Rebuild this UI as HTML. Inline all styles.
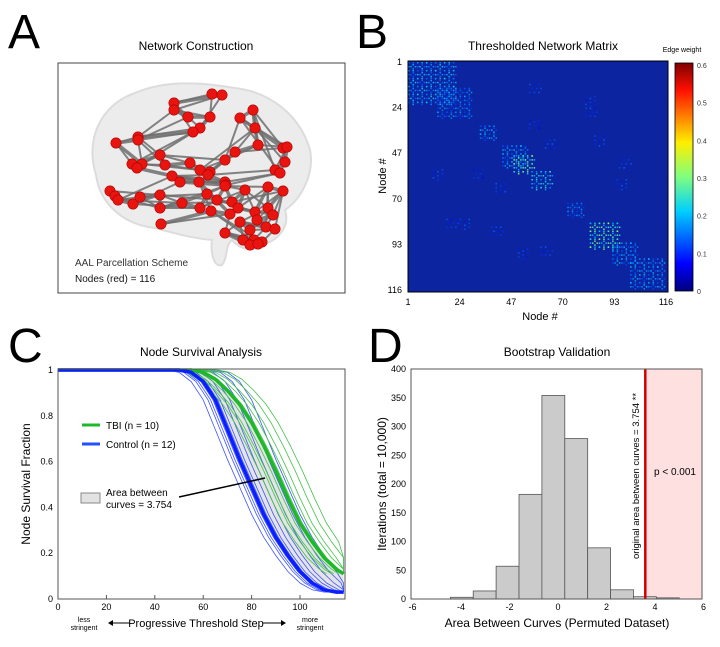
<!DOCTYPE html>
<html><head><meta charset="utf-8"><style>
body{margin:0;background:#fff}
svg{display:block;font-family:"Liberation Sans",Arial,sans-serif}
</style></head><body>
<svg id="fig" width="720" height="647" viewBox="0 0 720 647" xmlns="http://www.w3.org/2000/svg">
<text x="8" y="48" font-size="48">A</text>
<text x="356" y="48" font-size="48">B</text>
<text x="8" y="362" font-size="48">C</text>
<text x="368" y="362" font-size="48">D</text>

<g>
<text x="196" y="50" font-size="12" text-anchor="middle">Network Construction</text>
<rect x="58" y="63" width="287" height="230" fill="#fff" stroke="#444" stroke-width="1"/>
<path d="M96,175 C85,140 100,105 135,93 C165,80 200,82 235,88 C270,92 300,115 310,150 C315,175 300,200 285,210 C290,225 280,240 262,245 C255,252 240,250 232,240 C225,245 228,258 222,265 C215,268 210,255 212,240 C190,238 170,232 155,228 C125,225 100,205 96,175 Z" fill="#ececec" stroke="#dcdcdc" stroke-width="2"/>
<g id="brainEdges"></g><g id="brainNodes"></g>
<text x="75" y="266" font-size="10" fill="#333">AAL Parcellation Scheme</text>
<text x="75" y="282" font-size="10" fill="#111">Nodes (red) = 116</text>
</g>

<g>
<text x="543" y="50" font-size="12" text-anchor="middle">Thresholded Network Matrix</text>
<text x="682" y="52" font-size="7" text-anchor="middle">Edge weight</text>
<defs><linearGradient id="jet" x1="0" y1="1" x2="0" y2="0">
<stop offset="0" stop-color="#00007f"/><stop offset="0.12" stop-color="#0000ff"/><stop offset="0.35" stop-color="#00cfff"/><stop offset="0.5" stop-color="#7fff7f"/><stop offset="0.65" stop-color="#ffef00"/><stop offset="0.88" stop-color="#ff1000"/><stop offset="1" stop-color="#7f0000"/></linearGradient></defs>
<rect x="408" y="61" width="260" height="231" fill="#0c24a0"/>
<g id="matrixCells"></g>
<rect x="408" y="61" width="260" height="231" fill="none" stroke="#000" stroke-width="1"/>
<rect x="675" y="63" width="18" height="228" fill="url(#jet)" stroke="#000" stroke-width="0.8"/>
<g id="cbTicks" font-size="7" fill="#333"></g>
<g id="matTicks" font-size="9"></g>
<text x="540" y="320" font-size="11" text-anchor="middle">Node #</text>
<text transform="translate(386,176) rotate(-90)" font-size="11" text-anchor="middle">Node #</text>
</g>

<g>
<text x="201" y="356" font-size="12" text-anchor="middle">Node Survival Analysis</text>
<rect x="58" y="369" width="287" height="230" fill="#fff"/>
<path id="areaFill" fill="#e4e4e4" stroke="none"/>
<g id="cCurves"></g>
<rect x="58" y="369" width="287" height="230" fill="none" stroke="#555" stroke-width="1"/>
<g id="cTicks" font-size="9"></g>
<text transform="translate(30,484) rotate(-90)" font-size="12" text-anchor="middle">Node Survival Fraction</text>
<text x="196" y="627" font-size="11" text-anchor="middle">Progressive Threshold Step</text>
<text x="84" y="622" font-size="7" text-anchor="middle">less</text>
<text x="84" y="630" font-size="7" text-anchor="middle">stringent</text>
<text x="310" y="622" font-size="7" text-anchor="middle">more</text>
<text x="310" y="630" font-size="7" text-anchor="middle">stringent</text>
<line x1="110" y1="623" x2="130" y2="623" stroke="#000"/><path d="M108,623 l5,-3 v6z"/>
<line x1="263" y1="623" x2="282" y2="623" stroke="#000"/><path d="M286,623 l-5,-3 v6z"/>
<line x1="82" y1="425" x2="100" y2="425" stroke="#1fb82b" stroke-width="3"/>
<text x="106" y="429" font-size="10">TBI (n = 10)</text>
<line x1="82" y1="444" x2="100" y2="444" stroke="#2050ff" stroke-width="3"/>
<text x="106" y="448" font-size="10">Control (n = 12)</text>
<rect x="81" y="493" width="19" height="10" fill="#e2e2e2" stroke="#888"/>
<text x="106" y="496" font-size="10">Area between</text>
<text x="106" y="508" font-size="10">curves = 3.754</text>
<line x1="179" y1="497" x2="265" y2="478" stroke="#000" stroke-width="1.5"/>
</g>

<g>
<text x="557" y="356" font-size="12" text-anchor="middle">Bootstrap Validation</text>
<rect id="pink" y="369" height="230" fill="#ffe0e0"/>
<g id="bars"></g>
<line id="redLine" y1="369" y2="599" stroke="#d00000" stroke-width="2.5"/>
<rect x="411" y="369" width="291" height="230" fill="none" stroke="#555" stroke-width="1"/>
<g id="dTicks" font-size="9"></g>
<text x="654" y="475" font-size="10">p &lt; 0.001</text>
<text transform="translate(639,476) rotate(-90)" font-size="9.5" text-anchor="middle">original area between curves = 3.754 **</text>
<text transform="translate(386,484) rotate(-90)" font-size="12" text-anchor="middle">Iterations (total = 10,000)</text>
<text x="557" y="627" font-size="12" text-anchor="middle">Area Between Curves (Permuted Dataset)</text>
</g>
</svg>
<script>
const steps = [0, 50, 55, 60, 65, 70, 75, 80, 85, 90, 95, 100, 105, 110, 115, 118];
const tbiMean = [1, 1, 1, 0.99, 0.96, 0.91, 0.85, 0.77, 0.67, 0.56, 0.44, 0.33, 0.25, 0.18, 0.13, 0.11];
const ctrlMean = [1, 1, 0.99, 0.95, 0.87, 0.74, 0.61, 0.49, 0.37, 0.27, 0.19, 0.12, 0.07, 0.04, 0.03, 0.03];
const tbiShifts = [-7, -4, -2, 0, 1, 3, 5, 8, 11, -5];
const ctrlShifts = [-5, -3, -2, -1, 0, 1, 2, 4, 6, 9, 12, 15];
const cXTicks = [0, 20, 40, 60, 80, 100];
const cYTicks = [0, 0.2, 0.4, 0.6, 0.8, 1];
const binStart = -4.44, binWidth = 0.944;
const counts = [3, 14, 57, 182, 354, 279, 89, 16, 4, 2];
const observed = 3.6;
const dXTicks = [-6, -4, -2, 0, 2, 4, 6];
const dYTicks = [0, 50, 100, 150, 200, 250, 300, 350, 400];
const nodeTicks = [1, 24, 47, 70, 93, 116];
const cbTickVals = [0, 0.1, 0.2, 0.3, 0.4, 0.5, 0.6];
const clusters = [[1,1,22,0.22],[14,14,16,0.18],[33,33,8,0.2],[43,43,12,0.2],[48,48,10,0.32],[56,56,10,0.25],[72,72,8,0.18],[82,82,14,0.32],[92,92,12,0.2],[100,100,16,0.2],[12,55,6,0.14],[24,80,6,0.14],[50,95,6,0.14],[80,18,6,0.13],[84,38,6,0.14],[94,60,6,0.14],[55,30,5,0.12],[40,62,6,0.14]];
const brainNodes = [[212,94],[222,95],[174,103],[174,110],[188,117],[210,117],[200,128],[193,132],[138,137],[138,140],[116,143],[142,164],[132,164],[160,155],[165,165],[190,163],[200,170],[210,172],[225,160],[235,152],[258,145],[255,128],[253,110],[240,118],[283,148],[287,147],[285,162],[275,170],[280,173],[208,175],[225,182],[172,176],[180,182],[226,185],[110,191],[115,196],[118,200],[133,204],[140,197],[160,195],[160,208],[182,203],[200,208],[207,194],[217,200],[225,186],[232,202],[245,190],[238,208],[255,212],[268,187],[283,191],[268,208],[273,215],[257,220],[266,227],[275,229],[240,222],[250,230],[243,240],[254,240],[262,242],[225,233],[250,245],[258,244],[161,224],[211,211],[230,214],[199,182],[137,168]];

const NS = "http://www.w3.org/2000/svg";
function mk(tag, attrs, parent){const e=document.createElementNS(NS,tag);for(const k in attrs)e.setAttribute(k,attrs[k]);parent.appendChild(e);return e;}

const eg=document.getElementById('brainEdges'), ng=document.getElementById('brainNodes');
brainNodes.forEach((p,i)=>{
  [1,2,5].forEach(o=>{const q=brainNodes[(i+o)%brainNodes.length];
    const dx=q[0]-p[0],dy=q[1]-p[1];
    if(Math.hypot(dx,dy)<70){const l=mk('line',{x1:p[0],y1:p[1],x2:q[0],y2:q[1],stroke:'#6e6e6e','stroke-width':o===1?3.5:2,'stroke-opacity':0.85},eg);
    
    }});
});
brainNodes.forEach(p=>{const c=mk('circle',{cx:p[0],cy:p[1],r:5.2,fill:'#e8140f',stroke:'#b00000','stroke-width':0.6},ng);
  
  });

const mx=v=>408+(v-1)/115*258, my=v=>62+(v-1)/115*228;
function jet(w){const t=Math.min(1,w/0.6);const stops=[[0,[0,0,127]],[0.12,[0,0,255]],[0.35,[0,207,255]],[0.5,[127,255,127]],[0.65,[255,239,0]],[0.88,[255,16,0]],[1,[127,0,0]]];
  for(let i=1;i<stops.length;i++){if(t<=stops[i][0]){const a=stops[i-1],b=stops[i],f=(t-a[0])/(b[0]-a[0]);return 'rgb('+a[1].map((c,j)=>Math.round(c+(b[1][j]-c)*f)).join(',')+')';}}return 'rgb(127,0,0)';}
const mc=document.getElementById('matrixCells');
clusters.forEach(cl=>{const [r0,c0,s,w]=cl;
  for(let r=r0;r<r0+s;r+=2)for(let c=c0+((r-r0)/2%2);c<c0+s;c+=2){
    [[r,c],[c,r]].forEach(([a,b])=>{const e=mk('rect',{x:mx(b),y:my(a),width:1.5,height:1.5,fill:jet(w*(0.6+0.4*(((a*7+b*3)%5)/4))),'fill-opacity':0.85},mc);
    
    });
  }});
const cb=document.getElementById('cbTicks');
cbTickVals.forEach(v=>{const t=mk('text',{x:697,y:291-v/0.6*226+3},cb);t.textContent=v;
  
  });
const mt=document.getElementById('matTicks');
nodeTicks.forEach(v=>{let t=mk('text',{x:mx(v),y:305,'text-anchor':'middle'},mt);t.textContent=v;
  
  
  t=mk('text',{x:402,y:my(v)+3,'text-anchor':'end'},mt);t.textContent=v;
  
  });

const cx=v=>58+v*2.42, cy=v=>599-v*229;
function pts(mean,shift){return steps.map((s,i)=>[cx(Math.min(118,Math.max(0,s+(i>0?shift:0)))),cy(mean[i])]);}
function pathOf(p){return p.map((q,i)=>(i?'L':'M')+q[0].toFixed(1)+','+q[1].toFixed(1)).join(' ');}
const tm=pts(tbiMean,0), cm=pts(ctrlMean,0);
document.getElementById('areaFill').setAttribute('d',pathOf(tm)+' '+cm.slice().reverse().map(q=>'L'+q[0]+','+q[1]).join(' ')+'Z');
const cc=document.getElementById('cCurves');
ctrlShifts.forEach(s=>{const e=mk('path',{d:pathOf(pts(ctrlMean,s)),fill:'none',stroke:'#3d55ff','stroke-width':0.8},cc);
  
  });
tbiShifts.forEach(s=>{const e=mk('path',{d:pathOf(pts(tbiMean,s)),fill:'none',stroke:'#44c24a','stroke-width':0.8},cc);
  
  });
let e1=mk('path',{d:pathOf(tm),fill:'none',stroke:'#1fb82b','stroke-width':3.5},cc);


let e2=mk('path',{d:pathOf(cm),fill:'none',stroke:'#0a1eff','stroke-width':3.5},cc);


const ct=document.getElementById('cTicks');
cXTicks.forEach(v=>{const t=mk('text',{x:cx(v),y:610,'text-anchor':'middle'},ct);t.textContent=v;
  
  
  const l=mk('line',{x1:cx(v),x2:cx(v),y1:599,y2:595,stroke:'#555'},ct);
  
  });
cYTicks.forEach(v=>{const t=mk('text',{x:53,y:cy(v)+3,'text-anchor':'end'},ct);t.textContent=v;
  
  });

const dx=v=>558+v*24.25, dy=v=>599-v*0.575;
const pk=document.getElementById('pink');pk.setAttribute('x',dx(observed));pk.setAttribute('width',702-dx(observed));
const rl=document.getElementById('redLine');rl.setAttribute('x1',dx(observed));rl.setAttribute('x2',dx(observed));
const bg=document.getElementById('bars');
counts.forEach((c,i)=>{const x0=binStart+i*binWidth;const b=mk('rect',{x:dx(x0),y:dy(c),width:binWidth*24.25,height:599-dy(c),fill:'#cbcbcb',stroke:'#555','stroke-width':0.8},bg);
  
  });
const dt=document.getElementById('dTicks');
dXTicks.forEach(v=>{const t=mk('text',{x:dx(v),y:610,'text-anchor':'middle'},dt);t.textContent=v;
  
  });
dYTicks.forEach(v=>{const t=mk('text',{x:406,y:dy(v)+3,'text-anchor':'end'},dt);t.textContent=v;
  
  });
</script>
</body></html>
